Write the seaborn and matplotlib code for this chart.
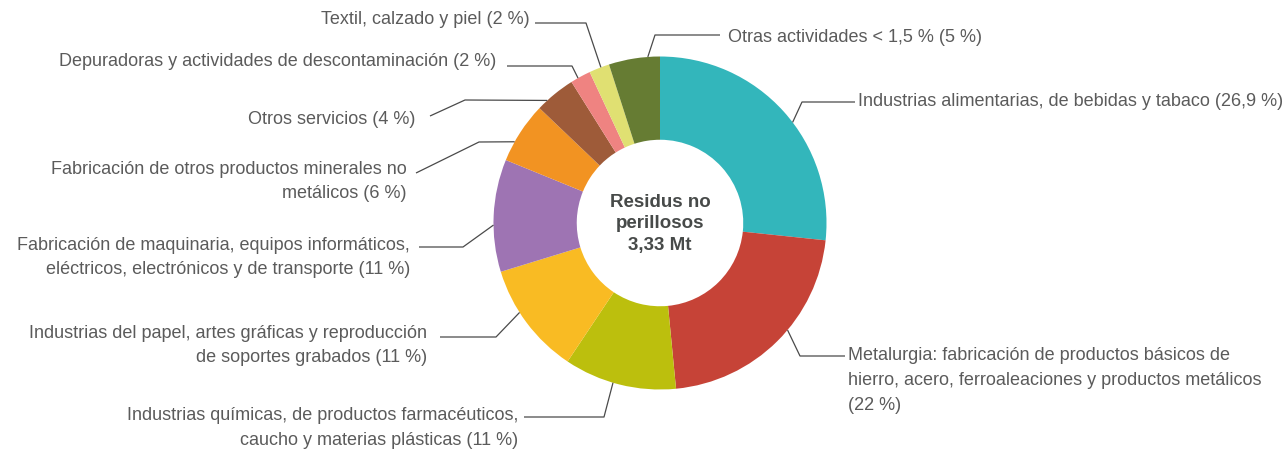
import numpy as np
import matplotlib
matplotlib.use("Agg")
import matplotlib.pyplot as plt
import seaborn as sns

# data
sectors = [
    "Industrias alimentarias, de bebidas y tabaco (26,9 %)",
    "Metalurgia: fabricación de productos básicos de\nhierro, acero, ferroaleaciones y productos metálicos\n(22 %)",
    "Industrias químicas, de productos farmacéuticos,\ncaucho y materias plásticas (11 %)",
    "Industrias del papel, artes gráficas y reproducción\nde soportes grabados (11 %)",
    "Fabricación de maquinaria, equipos informáticos,\neléctricos, electrónicos y de transporte (11 %)",
    "Fabricación de otros productos minerales no\nmetálicos (6 %)",
    "Otros servicios (4 %)",
    "Depuradoras y actividades de descontaminación (2 %)",
    "Textil, calzado y piel (2 %)",
    "Otras actividades < 1,5 % (5 %)",
]
shares = [26.9, 22, 11, 11, 11, 6, 4, 2, 2, 5]
colors = ["#33b6bb", "#c64337", "#bcbf0d", "#f9bb23", "#9e74b3",
          "#f29322", "#9e5b39", "#ef8381", "#e0e072", "#667c33"]
center_text = "Residus no\nperillosos\n3,33 Mt"

# layout (pixels from top-left of the 1286x449 canvas)
W, H = 1286, 449
CX, CY, R = 660, 223, 166.5
# angle on the outer edge where each leader starts, knee point, line end, text anchor
anchor_deg = [37.2, -40, -106.4, -147.5, -179.3, 150.8, 132.6, 119.5, 110.8, 94.2]
knees = [(802, 102), (800, 356), (604, 417), (496, 337), (463, 247),
         (479, 142), (465, 100), (572, 66), (586, 23), (655, 35)]
line_ends = [(855, 102), (845, 356), (524, 417), (440, 337), (419, 247),
             (416, 173), (430, 116), (507, 66), (535, 23), (720, 35)]
text_pos = [(858, 101), (848, 356), (518, 416), (427, 333), (410, 245),
            (407, 169), (415, 120), (496, 62), (530, 20), (728, 37)]
text_ha = ["left", "left", "right", "right", "right",
           "right", "right", "right", "right", "left"]
LINE_GAP = 24.5

sns.set_theme(style="white")
plt.rcParams["font.family"] = ["Liberation Sans", "DejaVu Sans"]

fig = plt.figure(figsize=(W / 100, H / 100), dpi=100)
ax = fig.add_axes([0, 0, 1, 1])


def fy(y):
    return H - y


ax.pie(shares, colors=colors, startangle=90, counterclock=False,
       radius=R, center=(CX, fy(CY)),
       wedgeprops=dict(width=R / 2, linewidth=0))

ax.set_xlim(0, W)
ax.set_ylim(0, H)
ax.set_aspect("equal")
ax.axis("off")

ax.text(CX, fy(CY + 1), center_text, ha="center", va="center",
        fontsize=13.5, fontweight="bold", color="#474a49", linespacing=1.32)

for name, ang, knee, end, tpos, ha in zip(sectors, anchor_deg, knees,
                                          line_ends, text_pos, text_ha):
    a = np.deg2rad(ang)
    ax_x = CX + R * np.cos(a)
    ax_y = fy(CY) + R * np.sin(a)
    ax.plot([ax_x, knee[0], end[0]], [ax_y, fy(knee[1]), fy(end[1])],
            color="#4a4a4a", lw=0.9, solid_capstyle="butt")
    for i, line in enumerate(name.split("\n")):
        ax.text(tpos[0], fy(tpos[1] + i * LINE_GAP), line, ha=ha,
                va="center", fontsize=13, color="#5b5b5b")

fig.savefig("out.png", dpi=100, facecolor="white")
